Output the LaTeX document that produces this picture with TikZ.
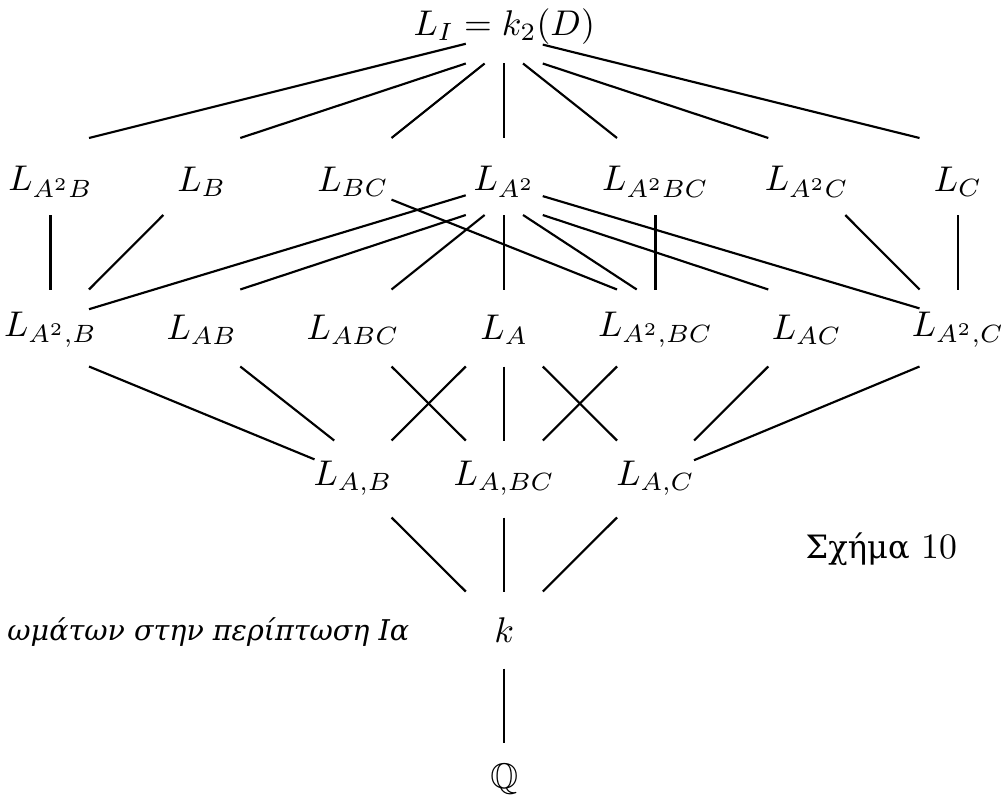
\documentclass[tikz,border=0pt]{standalone}
\usepackage{amssymb}
\usepackage{fontspec}
\newfontfamily\grkserif{DejaVu Serif}
\usetikzlibrary{calc}
\begin{document}
\begin{tikzpicture}[x=0.28pt,y=-0.28pt,
  box/.style={draw=none,rectangle,minimum width=21.56pt,minimum height=21.56pt,inner sep=0pt,outer sep=0pt},
  lbl/.style={inner sep=0pt,yshift=#1},
  edge/.style={line width=0.6pt}]
\useasboundingbox (0,0) rectangle (1001,801);
% row 0
\node[box,label={[lbl=-0.4pt,name=T-t]center:$L_I = k_2(D)$}] (T) at (504.25,25) {};
% row 1
\node[box,label={[lbl=-1.5pt,name=A2B-t]center:$L_{A^2B}$}] (A2B) at (50.5,176.5) {};
\node[box,label={[lbl=-1.5pt,name=B-t]center:$L_{B}$}] (B) at (201.75,176.5) {};
\node[box,label={[lbl=-1.5pt,name=BC-t]center:$L_{BC}$}] (BC) at (353,176.5) {};
\node[box,label={[lbl=-1.5pt,name=A2-t]center:$L_{A^2}$}] (A2) at (504.25,176.5) {};
\node[box,label={[lbl=-1.5pt,name=A2BC-t]center:$L_{A^2BC}$}] (A2BC) at (655.5,176.5) {};
\node[box,label={[lbl=-1.5pt,name=A2C-t]center:$L_{A^2C}$}] (A2C) at (806.75,176.5) {};
\node[box,label={[lbl=-1.5pt,name=C-t]center:$L_{C}$}] (C) at (958,176.5) {};
% row 2
\node[box,label={[lbl=-0.5pt,name=A2cB-t]center:$L_{A^2,B}$}] (A2cB) at (50.5,328) {};
\node[box,label={[lbl=-0.5pt,name=AB-t]center:$L_{AB}$}] (AB) at (201.75,328) {};
\node[box,label={[lbl=-0.5pt,name=ABC-t]center:$L_{ABC}$}] (ABC) at (353,328) {};
\node[box,label={[lbl=-0.5pt,name=A-t]center:$L_{A}$}] (A) at (504.25,328) {};
\node[box,label={[lbl=-0.5pt,name=A2cBC-t]center:$L_{A^2,BC}$}] (A2cBC) at (655.5,328) {};
\node[box,label={[lbl=-0.5pt,name=AC-t]center:$L_{AC}$}] (AC) at (806.75,328) {};
\node[box,label={[lbl=-0.5pt,name=A2cC-t]center:$L_{A^2,C}$}] (A2cC) at (958,328) {};
% row 3
\node[box,label={[lbl=0.2pt,name=AcB-t]center:$L_{A,B}$}] (AcB) at (353,479) {};
\node[box,label={[lbl=0.2pt,name=AcBC-t]center:$L_{A,BC}$}] (AcBC) at (504.25,479) {};
\node[box,label={[lbl=0.2pt,name=AcC-t]center:$L_{A,C}$}] (AcC) at (655.5,479) {};
% rows 4, 5
\node[box,label={[lbl=0pt,name=k-t]center:$k$}] (k) at (504.25,630) {};
\node[box,label={[lbl=0.5pt,name=Q-t]center:$\mathbb{Q}$}] (Q) at (504.25,781) {};
% texts
\node[inner sep=0pt,anchor=base east] (cap) at (410,640) {\grkserif\itshape\fontsize{8}{10}\selectfont ωμάτων στην περίπτωση Ια};
\node[inner sep=0pt,anchor=base west] (fig) at (805,558) {{\grkserif\fontsize{9}{11}\selectfont Σχήμα} 10};
% edges from top
\draw[edge] (T.206.57) -- (A2B.north east);
\draw[edge] (T.south west) -- (B.north east);
\draw[edge] (T.243.43) -- (BC.north east);
\draw[edge] (T.south) -- (A2.north);
\draw[edge] (T.296.57) -- (A2BC.north west);
\draw[edge] (T.south east) -- (A2C.north west);
\draw[edge] (T.333.43) -- (C.north west);
% row 1 to row 2
\draw[edge] (A2B.south) -- (A2cB.north);
\draw[edge] (B.south west) -- (A2cB.north east);
\draw[edge] (BC.329.04) -- (A2cBC.north west);
\draw[edge] (A2.206.57) -- (A2cB.26.57);
\draw[edge] (A2.south west) -- (AB.north east);
\draw[edge] (A2.243.43) -- (ABC.north east);
\draw[edge] (A2.south) -- (A.north);
\draw[edge] (A2.296.57) -- (A2cBC.116.57);
\draw[edge] (A2.south east) -- (AC.north west);
\draw[edge] (A2.333.43) -- (A2cC.153.43);
\draw[edge] (A2BC.south) -- (A2cBC.north);
\draw[edge] (A2C.south east) -- (A2cC.north west);
\draw[edge] (C.south) -- (A2cC.north);
% row 2 to row 3
\draw[edge] (A2cB.south east) -- (AcB.153.43);
\draw[edge] (AB.south east) -- (AcB.116.57);
\draw[edge] (ABC.south east) -- (AcBC.north west);
\draw[edge] (A.south west) -- (AcB.north east);
\draw[edge] (A.south) -- (AcBC.north);
\draw[edge] (A.south east) -- (AcC.north west);
\draw[edge] (A2cBC.south west) -- (AcBC.north east);
\draw[edge] (AC.south west) -- (AcC.north east);
\draw[edge] (A2cC.south west) -- (AcC.26.57);
% row 3 to k, k to Q
\draw[edge] (AcB.south east) -- (k.north west);
\draw[edge] (AcBC.south) -- (k.north);
\draw[edge] (AcC.south west) -- (k.north east);
\draw[edge] (k.south) -- (Q.north);
\end{tikzpicture}
\end{document}
